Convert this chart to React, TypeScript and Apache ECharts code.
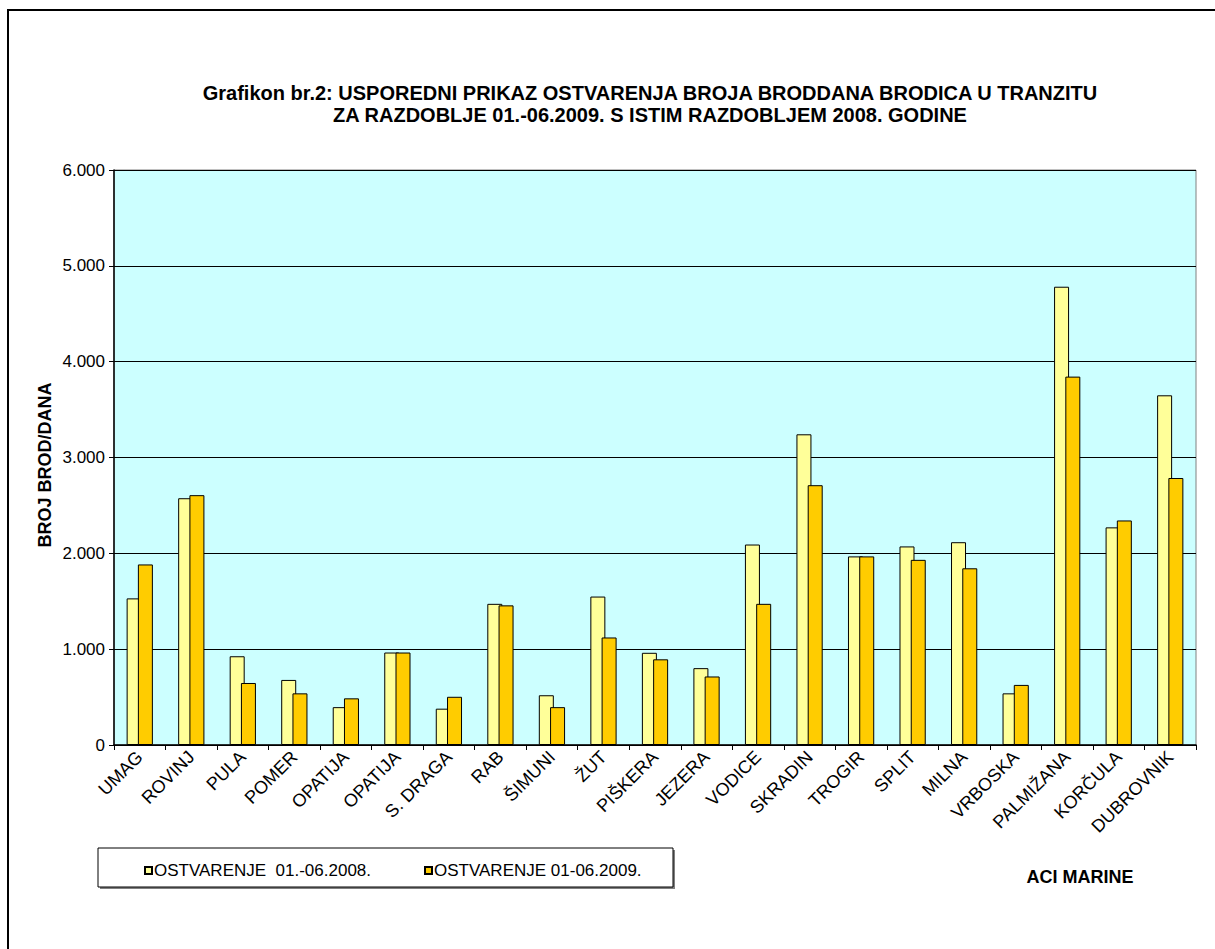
import React, { useEffect, useRef } from "react";
import * as echarts from "echarts";

const categories = [
  "UMAG", "ROVINJ", "PULA", "POMER", "OPATIJA", "OPATIJA", "S. DRAGA", "RAB",
  "ŠIMUNI", "ŽUT", "PIŠKERA", "JEZERA", "VODICE", "SKRADIN", "TROGIR", "SPLIT",
  "MILNA", "VRBOSKA", "PALMIŽANA", "KORČULA", "DUBROVNIK",
];
const values2008 = [
  1530, 2575, 926, 679, 395, 965, 379, 1473, 519, 1549, 962, 802, 2092, 3242,
  1968, 2072, 2116, 539, 4782, 2271, 3649,
];
const values2009 = [
  1884, 2607, 647, 539, 487, 965, 503, 1457, 395, 1122, 894, 715, 1473, 2711,
  1968, 1932, 1844, 627, 3844, 2343, 2786,
];
const seriesNames = ["OSTVARENJE  01.-06.2008.", "OSTVARENJE 01-06.2009."];
const titleLines = [
  "Grafikon br.2: USPOREDNI PRIKAZ OSTVARENJA BROJA BRODDANA BRODICA U TRANZITU",
  "ZA RAZDOBLJE 01.-06.2009. S ISTIM RAZDOBLJEM 2008. GODINE",
];
const yAxisName = "BROJ BROD/DANA";
const footerText = "ACI MARINE";

const FONT = "'Liberation Sans', Arial, sans-serif";

export default function App() {
  const ref = useRef<HTMLDivElement>(null);
  useEffect(() => {
    if (!ref.current) return;
    const chart = echarts.init(ref.current, null, { renderer: "svg" });
    chart.setOption({
      animation: false,
      backgroundColor: "#ffffff",
      textStyle: { fontFamily: FONT },
      title: {
        text: titleLines.join("\n"),
        left: 645,
        textAlign: "center",
        top: 77,
        textStyle: {
          fontSize: 20,
          fontWeight: "bold",
          color: "#000",
          lineHeight: 22,
          fontFamily: FONT,
        },
      },
      grid: {
        left: 114,
        right: 19,
        top: 170,
        bottom: 204,
        show: true,
        backgroundColor: "#CCFFFF",
        borderColor: "#808080",
        borderWidth: 1,
      },
      legend: {
        data: seriesNames,
        left: 139,
        top: 857,
        itemWidth: 7,
        itemHeight: 7,
        itemGap: 53,
        icon: "rect",
        textStyle: { fontSize: 17, color: "#000", fontFamily: FONT, padding: [0, 0, 0, -3] },
      },
      xAxis: {
        type: "category",
        data: categories,
        axisLine: { lineStyle: { color: "#000", width: 1.5 } },
        axisTick: { show: true, length: 5, lineStyle: { color: "#000" } },
        axisLabel: {
          interval: 0,
          rotate: 45,
          fontSize: 18,
          color: "#000",
          margin: 9,
          fontFamily: FONT,
        },
      },
      yAxis: {
        type: "value",
        min: 0,
        max: 6000,
        interval: 1000,
        axisLine: { show: true, lineStyle: { color: "#000", width: 1.5 } },
        axisTick: { show: true, length: 5, lineStyle: { color: "#000" } },
        axisLabel: {
          fontSize: 17,
          color: "#000",
          margin: 9,
          fontFamily: FONT,
          formatter: (v: number) =>
            v === 0 ? "0" : String(v).replace(/\B(?=(\d{3})+(?!\d))/g, "."),
        },
        splitLine: { lineStyle: { color: "#000", width: 1 } },
      },
      series: [
        {
          name: seriesNames[0],
          type: "bar",
          data: values2008,
          barWidth: 15,
          barGap: "-25%",
          itemStyle: { color: "#FFFF99", borderColor: "#000", borderWidth: 1 },
        },
        {
          name: seriesNames[1],
          type: "bar",
          data: values2009,
          barWidth: 15,
          itemStyle: { color: "#FFCC00", borderColor: "#000", borderWidth: 1 },
        },
      ],
      graphic: [
        {
          type: "rect",
          z: -10,
          shape: { x: 8, y: 10, width: 1230, height: 980 },
          style: { fill: "none", stroke: "#000", lineWidth: 2 },
        },
        {
          type: "rect",
          z: -1,
          shape: { x: 100, y: 850, width: 575, height: 39 },
          style: { fill: "#808080", stroke: "none" },
        },
        {
          type: "rect",
          z: 0,
          shape: { x: 98, y: 848, width: 575, height: 39 },
          style: { fill: "#ffffff", stroke: "#000", lineWidth: 1 },
        },
        {
          type: "text",
          x: 45,
          y: 465,
          rotation: Math.PI / 2,
          style: {
            text: yAxisName,
            fill: "#000",
            font: `bold 18px ${FONT}`,
            textAlign: "center",
            textVerticalAlign: "middle",
          },
        },
        {
          type: "text",
          x: 1080,
          y: 877,
          style: {
            text: footerText,
            fill: "#000",
            font: `bold 18px ${FONT}`,
            textAlign: "center",
            textVerticalAlign: "middle",
          },
        },
      ],
    });
    return () => chart.dispose();
  }, []);
  return (
    <div
      ref={ref}
      style={{ position: "absolute", left: 0, top: 0, width: 1215, height: 949 }}
    />
  );
}
